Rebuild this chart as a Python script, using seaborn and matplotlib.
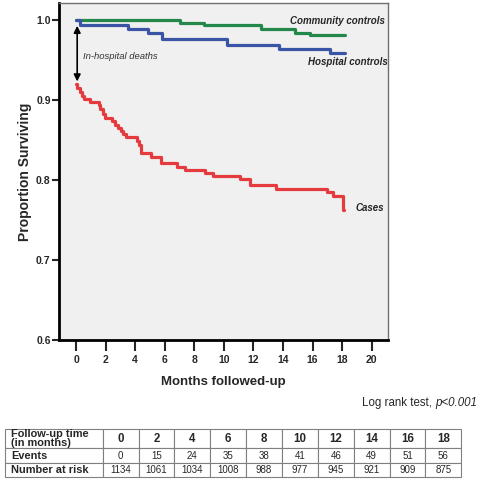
import numpy as np
import pandas as pd
import matplotlib
matplotlib.use("Agg")
import matplotlib.pyplot as plt
import seaborn as sns

# survival curves (month, proportion surviving)
community_months = [0, 7.04, 8.66, 12.5, 14.8, 15.8, 18.2]
community_surv = [1.0, 0.996, 0.993, 0.988, 0.984, 0.981, 0.981]

hospital_months = [0, 0.3, 3.54, 4.85, 5.8, 10.2, 13.7, 17.2, 18.2]
hospital_surv = [1.0, 0.993, 0.988, 0.984, 0.976, 0.969, 0.9635, 0.959, 0.959]

cases_months = [0, 0.1, 0.25, 0.4, 0.55, 0.95, 1.55, 1.65, 1.8, 1.96, 2.45, 2.65,
                2.85, 3.05, 3.2, 3.35, 4.1, 4.25, 4.4, 5.05, 5.75, 6.8, 7.37, 8.73,
                9.29, 11.1, 11.77, 13.5, 16.96, 17.4, 18.04, 18.1]
cases_surv = [0.920, 0.915, 0.910, 0.905, 0.901, 0.897, 0.893, 0.888, 0.882, 0.877,
              0.873, 0.869, 0.865, 0.861, 0.857, 0.854, 0.849, 0.843, 0.834, 0.829,
              0.821, 0.816, 0.812, 0.809, 0.805, 0.801, 0.794, 0.789, 0.785, 0.780,
              0.763, 0.763]

# table under the plot
followup = ["0", "2", "4", "6", "8", "10", "12", "14", "16", "18"]
events = ["0", "15", "24", "35", "38", "41", "46", "49", "51", "56"]
at_risk = ["1134", "1061", "1034", "1008", "988", "977", "945", "921", "909", "875"]
row_names = ["Follow-up time\n(in months)", "Events", "Number at risk"]

x_ticks = [0, 2, 4, 6, 8, 10, 12, 14, 16, 18, 20]
y_ticks = [0.6, 0.7, 0.8, 0.9, 1.0]

sns.set_style("white")
plt.rcParams['font.family'] = ['Liberation Sans', 'DejaVu Sans']

fig = plt.figure(figsize=(4.78, 4.90), dpi=100)
W, H = 478, 490
ax = fig.add_axes([59 / W, 1 - 340 / H, (388 - 59) / W, (340 - 3) / H])
ax.set_facecolor("#f0f0f0")

green = "#23884a"
blue = "#3b55a6"
red = "#e53a3e"

df = pd.concat([
    pd.DataFrame({"month": community_months, "surv": community_surv, "group": "Community controls"}),
    pd.DataFrame({"month": hospital_months, "surv": hospital_surv, "group": "Hospital controls"}),
    pd.DataFrame({"month": cases_months, "surv": cases_surv, "group": "Cases"}),
])
sns.lineplot(data=df, x="month", y="surv", hue="group",
             palette={"Community controls": green, "Hospital controls": blue, "Cases": red},
             estimator=None, sort=False, drawstyle="steps-post", lw=2.3,
             legend=False, ax=ax)

ax.set_xlim(-1.15, 21.1)
ax.set_ylim(0.6, 1.021)
ax.set_xticks(x_ticks)
ax.set_yticks(y_ticks)
ax.set_yticklabels([f"{v:.1f}" for v in y_ticks])
tick_fp = matplotlib.font_manager.FontProperties(size=7.5, weight="bold",
                                                 family=['Liberation Sans Narrow', 'Liberation Sans'])
for lab in ax.get_xticklabels() + ax.get_yticklabels():
    lab.set_fontproperties(tick_fp)
ax.tick_params(axis="x", direction="out", length=8, width=1.5, pad=3, bottom=True)
ax.tick_params(axis="y", direction="out", length=5, width=1.5, pad=1, left=True)

for s in ["left", "bottom"]:
    ax.spines[s].set_color("black")
    ax.spines[s].set_linewidth(2)
for s in ["top", "right"]:
    ax.spines[s].set_color("#707070")
    ax.spines[s].set_linewidth(1)

ax.set_xlabel("Months followed-up", fontsize=9.5, fontweight="bold", labelpad=8)
ax.set_ylabel("Proportion Surviving", fontsize=10, fontweight="bold", labelpad=3)

# labels on the curves
ax.text(20.9, 0.9985, "Community controls", fontsize=7, fontweight="bold", style="italic",
        ha="right", va="center")
ax.text(21.05, 0.9475, "Hospital controls", fontsize=7, fontweight="bold", style="italic",
        ha="right", va="center")
ax.text(18.9, 0.7645, "Cases", fontsize=7, fontweight="bold", style="italic",
        ha="left", va="center")
ax.text(0.5, 0.9545, "In-hospital deaths", fontsize=6.8, style="italic", color="#333333",
        ha="left", va="center")
ax.annotate("", xy=(0.08, 0.923), xytext=(0.08, 0.9925),
            arrowprops=dict(arrowstyle="<|-|>", color="black", lw=1.2,
                            mutation_scale=10, shrinkA=0, shrinkB=0))

# log rank note: plain part + italic p-value
p_txt = fig.text(477 / W, 1 - 403 / H, "p<0.001", fontsize=8.3, style="italic",
                 ha="right", va="center")
fig.canvas.draw()
bb = p_txt.get_window_extent(renderer=fig.canvas.get_renderer())
fig.text(bb.x0 / fig.bbox.width, 1 - 403 / H, "Log rank test, ", fontsize=8.3,
         ha="right", va="center")

# table
tab_ax = fig.add_axes([5 / W, 1 - 476.7 / H, (461.3 - 5) / W, (476.7 - 429) / H])
tab_ax.axis("off")
cells = [followup, events, at_risk]
cell_text = [[row_names[i]] + cells[i] for i in range(3)]
first_w = 102.7 - 5
col_w = (461.3 - 102.7) / 10
total = first_w + 10 * col_w
tbl = tab_ax.table(cellText=cell_text, colWidths=[first_w / total] + [col_w / total] * 10,
                   bbox=[0, 0, 1, 1], cellLoc="center")
tbl.auto_set_font_size(False)
row_h = [19.3, 14.4, 14.0]
for (r, c), cell in tbl.get_celld().items():
    cell.set_edgecolor("#808080")
    cell.set_linewidth(0.8)
    cell.set_height(row_h[r] / sum(row_h))
    txt = cell.get_text()
    txt.set_fontsize(7)
    if c == 0:
        cell._loc = "left"
        txt.set_ha("left")
        cell.PAD = 0.06
        txt.set_fontsize(7.9)
        txt.set_fontweight("bold")
        txt.set_linespacing(0.95)
    elif r == 0:
        txt.set_fontweight("bold")
        txt.set_fontsize(8.3)

fig.savefig("out.png", dpi=100)
